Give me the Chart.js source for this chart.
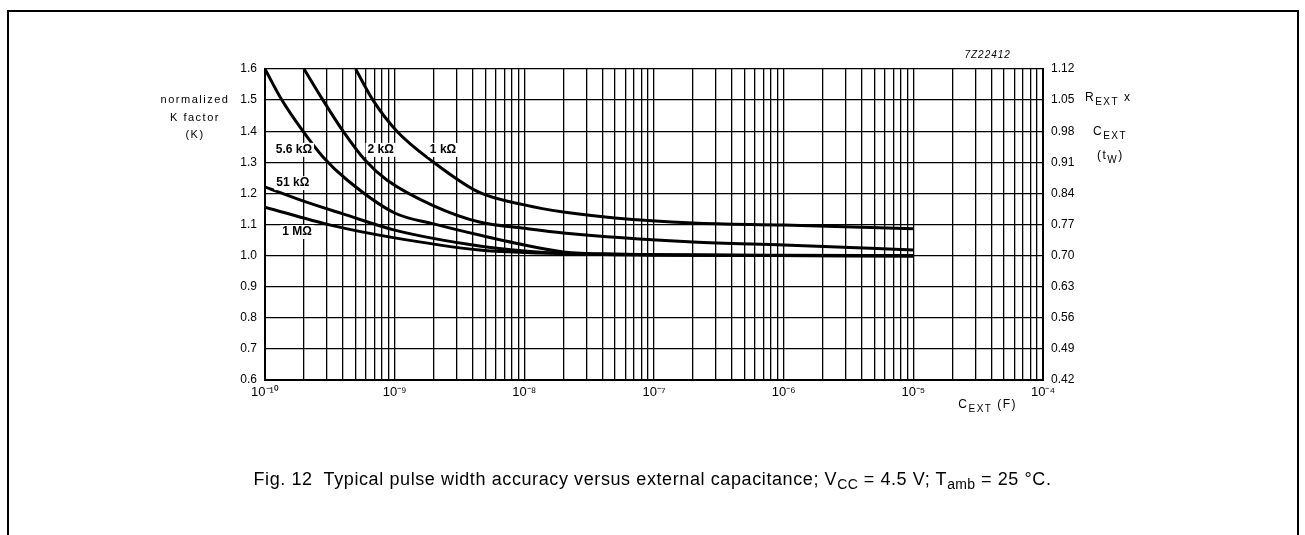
<!DOCTYPE html>
<html>
<head>
<meta charset="utf-8">
<script src="https://cdn.jsdelivr.net/npm/chart.js@4.4.0/dist/chart.umd.min.js"></script>
<style>
  body { margin: 0; background: #fff; }
  #frame { position: absolute; left: 7px; top: 10px; width: 1288px; height: 540px; border: 2px solid #000; border-bottom: none; }
  #wrap { position: absolute; left: 0; top: 0; width: 1305px; height: 535px; }
  #caption { position: absolute; left: 0; top: 469px; width: 1305px; text-align: center;
    font: 18px "Liberation Sans", Arial, sans-serif; letter-spacing: 0.6px; color: #000; }
  #caption sub { font-size: 14px; vertical-align: -4px; letter-spacing: 0.3px; }
</style>
</head>
<body>
<div id="frame"></div>
<div id="wrap"><canvas id="pulseChart"></canvas></div>
<div id="caption">Fig. 12&nbsp; Typical pulse width accuracy versus external capacitance; V<sub>CC</sub> = 4.5 V; T<sub>amb</sub> = 25 °C.</div>
<script>
// axis values
var decades = [-10, -9, -8, -7, -6, -5, -4];
var kTicks = [0.6, 0.7, 0.8, 0.9, 1.0, 1.1, 1.2, 1.3, 1.4, 1.5, 1.6];
var twTicks = [0.42, 0.49, 0.56, 0.63, 0.70, 0.77, 0.84, 0.91, 0.98, 1.05, 1.12];

// curves: capacitance (F) and K factor
var c_1k = [5.0e-10, 6.8e-10, 1.04e-9, 2e-9, 4.5e-9, 1e-8, 2e-8, 5e-8, 2e-7, 1e-6, 1e-5];
var k_1k = [1.60, 1.50, 1.40, 1.30, 1.203, 1.163, 1.14, 1.121, 1.105, 1.098, 1.086];

var c_2k = [2.0e-10, 2.8e-10, 4e-10, 5.9e-10, 8.7e-10, 2e-9, 4.5e-9, 1e-8, 2e-8, 2e-7, 1e-6, 1e-5];
var k_2k = [1.60, 1.50, 1.40, 1.307, 1.243, 1.16, 1.108, 1.088, 1.073, 1.044, 1.034, 1.018];

var c_5k6 = [1e-10, 1.35e-10, 1.93e-10, 2.8e-10, 4.3e-10, 1e-9, 2e-9, 4.5e-9, 1e-8, 2e-8, 5e-8, 1e-6, 1e-5];
var k_5k6 = [1.60, 1.50, 1.404, 1.317, 1.243, 1.137, 1.102, 1.066, 1.034, 1.012, 1.005, 1.001, 1.0];

var c_51k = [1e-10, 1.96e-10, 4e-10, 1e-9, 4.5e-9, 1e-8, 2e-8, 1e-7, 1e-5];
var k_51k = [1.221, 1.176, 1.134, 1.082, 1.031, 1.015, 1.007, 1.002, 0.999];

var c_1M = [1e-10, 3.2e-10, 1e-9, 4.5e-9, 1e-8, 1e-7, 1e-5];
var k_1M = [1.156, 1.098, 1.057, 1.018, 1.010, 1.002, 0.999];

var FONT = '"Liberation Sans", Arial, sans-serif';
var SUP = { "-": "\u207B", "0": "\u2070", "1": "\u00B9", "2": "\u00B2", "3": "\u00B3", "4": "\u2074",
            "5": "\u2075", "6": "\u2076", "7": "\u2077", "8": "\u2078", "9": "\u2079" };

function toPoints(cs, ks) {
    return cs.map(function (c, i) { return { x: c, y: ks[i] }; });
}

function curve(label, cs, ks) {
    return {
        label: label,
        data: toPoints(cs, ks),
        borderColor: "#000",
        borderWidth: 3,
        pointRadius: 0,
        fill: false,
        cubicInterpolationMode: "monotone",
    };
}

// log grid: 1..9 in every decade
var xTickValues = [];
for (var d = 0; d < decades.length - 1; d++) {
    for (var m = 1; m <= 9; m++) {
        xTickValues.push(Number(m + "e" + decades[d]));
    }
}
xTickValues.push(Number("1e" + decades[decades.length - 1]));

function drawParts(ctx, parts, x, y, size) {
    // parts: [text, "n" | "s"] drawn left to right, "s" = subscript
    ctx.textAlign = "left";
    ctx.textBaseline = "alphabetic";
    parts.forEach(function (p) {
        if (p[1] === "s") {
            ctx.font = Math.round(size * 0.8) + "px " + FONT;
            ctx.fillText(p[0], x, y + size * 0.35);
        } else {
            ctx.font = size + "px " + FONT;
            ctx.fillText(p[0], x, y);
        }
        x += ctx.measureText(p[0]).width;
    });
}

var notes = {
    id: "notes",
    afterDraw: function (chart) {
        var ctx = chart.ctx;
        var a = chart.chartArea;
        var x = chart.scales.x;
        var y = chart.scales.y;
        ctx.save();
        ctx.fillStyle = "#000";

        // curve names on white patches
        var names = [
            ["5.6 k\u03A9", 1.67e-10, 1.34],
            ["2 k\u03A9", 7.8e-10, 1.34],
            ["1 k\u03A9", 2.36e-9, 1.34],
            ["51 k\u03A9", 1.64e-10, 1.233],
            ["1 M\u03A9", 1.77e-10, 1.076],
        ];
        ctx.font = "bold 12px " + FONT;
        ctx.textAlign = "center";
        ctx.textBaseline = "middle";
        names.forEach(function (n) {
            var px = x.getPixelForValue(n[1]);
            var py = y.getPixelForValue(n[2]);
            var w = ctx.measureText(n[0]).width;
            ctx.fillStyle = "#fff";
            ctx.fillRect(px - w / 2 - 2, py - 7, w + 4, 14);
            ctx.fillStyle = "#000";
            ctx.fillText(n[0], px, py);
        });

        // left axis title
        ctx.font = "11px " + FONT;
        ctx.letterSpacing = "1.5px";
        ctx.textAlign = "center";
        ctx.textBaseline = "middle";
        var lx = a.left - 70;
        ctx.fillText("normalized", lx, a.top + 31);
        ctx.fillText("K factor", lx, a.top + 49);
        ctx.fillText("(K)", lx, a.top + 66);

        // right axis title
        var rx = a.right + 42;
        drawParts(ctx, [["R", "n"], ["EXT", "s"], [" x", "n"]], rx, a.top + 32, 12);
        drawParts(ctx, [["C", "n"], ["EXT", "s"]], rx + 8, a.top + 66, 12);
        drawParts(ctx, [["(t", "n"], ["W", "s"], [")", "n"]], rx + 12, a.top + 90, 12);

        // x axis title
        drawParts(ctx, [["C", "n"], ["EXT", "s"], [" (F)", "n"]], x.getPixelForValue(1e-5) + 45, a.bottom + 28, 12);

        // drawing code
        ctx.font = "italic 10px " + FONT;
        ctx.letterSpacing = "1px";
        ctx.textAlign = "left";
        ctx.fillText("7Z22412", x.getPixelForValue(4e-5) - 27, a.top - 11);
        ctx.restore();
    }
};

var tickFont = { family: FONT, size: 12 };

new Chart(document.getElementById("pulseChart").getContext("2d"), {
    type: "line",
    data: {
        datasets: [
            curve("1 k\u03A9", c_1k, k_1k),
            curve("2 k\u03A9", c_2k, k_2k),
            curve("5.6 k\u03A9", c_5k6, k_5k6),
            curve("51 k\u03A9", c_51k, k_51k),
            curve("1 M\u03A9", c_1M, k_1M),
        ],
    },
    plugins: [notes],
    options: {
        responsive: true,
        maintainAspectRatio: false,
        animation: false,
        layout: { padding: { top: 69, left: 0, right: 0, bottom: 0 } },
        plugins: {
            legend: { display: false },
            tooltip: { enabled: false },
        },
        scales: {
            x: {
                type: "logarithmic",
                min: 1e-10,
                max: 1e-4,
                afterBuildTicks: function (scale) {
                    scale.ticks = xTickValues.map(function (v) { return { value: v }; });
                },
                afterFit: function (scale) { scale.height = 155; },
                grid: { color: "#000", lineWidth: 1.3, drawTicks: false },
                border: { color: "#000", width: 2 },
                ticks: {
                    autoSkip: false,
                    maxRotation: 0,
                    padding: 5,
                    color: "#000",
                    font: { family: FONT, size: 13 },
                    callback: function (v) {
                        var e = Math.round(Math.log10(v));
                        if (Math.abs(v - Math.pow(10, e)) > Math.pow(10, e) * 1e-6) return "";
                        return "10" + String(e).split("").map(function (ch) { return SUP[ch]; }).join("");
                    },
                },
            },
            y: {
                position: "left",
                min: 0.6,
                max: 1.6,
                afterBuildTicks: function (scale) {
                    scale.ticks = kTicks.map(function (v) { return { value: v }; });
                },
                afterFit: function (scale) { scale.width = 265; },
                grid: { color: "#000", lineWidth: 1.3, drawTicks: false },
                border: { color: "#000", width: 2 },
                ticks: {
                    padding: 8,
                    color: "#000",
                    font: tickFont,
                    callback: function (v) { return v.toFixed(1); },
                },
            },
            y2: {
                position: "right",
                min: 0.42,
                max: 1.12,
                afterBuildTicks: function (scale) {
                    scale.ticks = twTicks.map(function (v) { return { value: v }; });
                },
                afterFit: function (scale) { scale.width = 262; },
                grid: { drawOnChartArea: false, drawTicks: false },
                border: { color: "#000", width: 2 },
                ticks: {
                    padding: 8,
                    color: "#000",
                    font: tickFont,
                    callback: function (v) { return v.toFixed(2); },
                },
            },
        },
    },
});
</script>
</body>
</html>
